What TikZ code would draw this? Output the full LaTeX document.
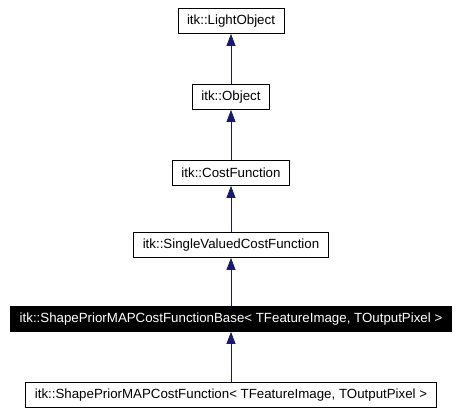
\documentclass[tikz,border=0pt]{standalone}
\usepackage{fontspec}
\setmainfont{Liberation Sans}
\usetikzlibrary{arrows.meta}
\definecolor{edgeblue}{RGB}{25,25,112}

\begin{document}
\begin{tikzpicture}[x=1pt,y=-1pt,
  cls/.style={draw,thick,fill=white,font=\fontsize{13.3}{15}\selectfont,minimum height=25pt,inner xsep=9pt,inner ysep=0pt},
  cur/.style={cls,fill=black,text=white},
  inh/.style={-{Triangle[length=12pt,width=9pt]},thick,edgeblue}]
  \useasboundingbox (0,0) rectangle (460,415);
  \node[cls] (LO) at (231,21) {itk::LightObject};
  \node[cls] (O) at (231,97) {itk::Object};
  \node[cls] (CF) at (231,173) {itk::CostFunction};
  \node[cls] (SV) at (231,245) {itk::SingleValuedCostFunction};
  \node[cur] (B) at (231,319) {itk::ShapePriorMAPCostFunctionBase< TFeatureImage, TOutputPixel >};
  \node[cls] (F) at (231,395) {itk::ShapePriorMAPCostFunction< TFeatureImage, TOutputPixel >};
  \draw[inh] (O) -- (LO);
  \draw[inh] (CF) -- (O);
  \draw[inh] (SV) -- (CF);
  \draw[inh] (B) -- (SV);
  \draw[inh] (F) -- (B);
\end{tikzpicture}
\end{document}
